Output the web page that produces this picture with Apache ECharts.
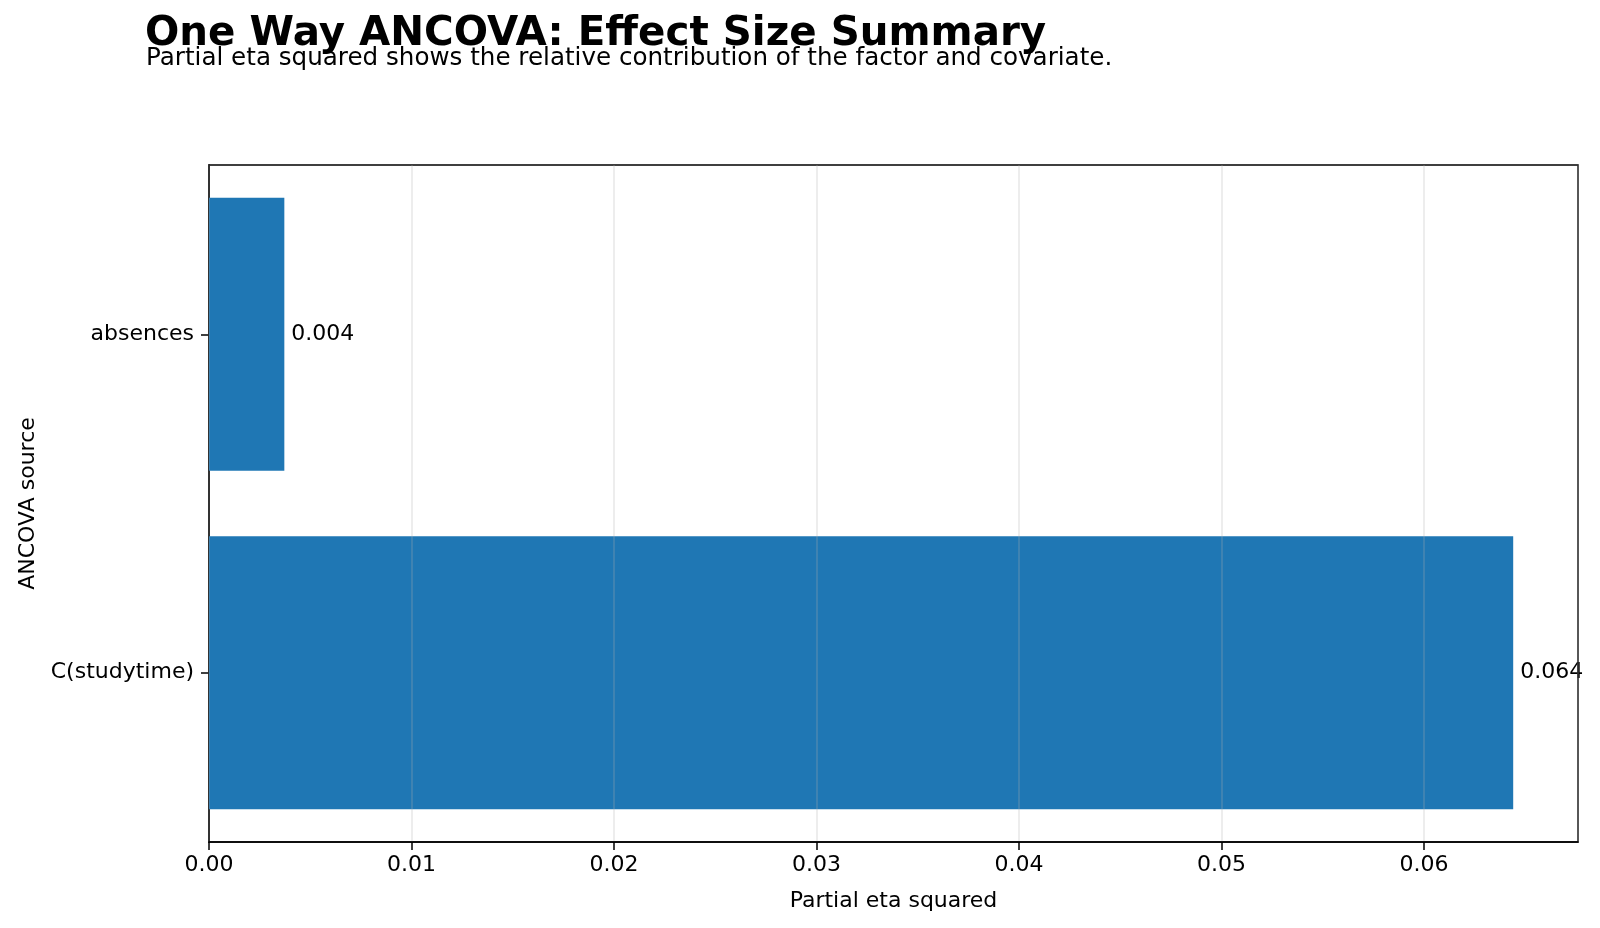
<!DOCTYPE html>
<html>
<head>
<meta charset="utf-8">
<script src="https://cdn.jsdelivr.net/npm/echarts@6/dist/echarts.min.js"></script>
<style>
  html, body { margin: 0; padding: 0; background: #fff; }
  #main { width: 1600px; height: 928px; }
</style>
</head>
<body>
<div id="main"></div>
<script>
// 数据
var sources = ['C(studytime)', 'absences'];
var etaValues = [0.0644, 0.00372];
var xTicks = [0, 0.01, 0.02, 0.03, 0.04, 0.05, 0.06];

var myChart = echarts.init(document.getElementById('main'));
var font = 'DejaVu Sans';

var option = {
    animation: false,
    backgroundColor: '#ffffff',
    title: [
        {
            text: 'One Way ANCOVA: Effect Size Summary',
            left: 140,
            top: 10,
            textStyle: { fontFamily: font, fontSize: 40.4, fontWeight: 'bold', color: '#000' }
        },
        {
            text: 'Partial eta squared shows the relative contribution of the factor and covariate.',
            left: 141,
            top: 41,
            textStyle: { fontFamily: font, fontSize: 24.6, fontWeight: 'normal', color: '#000' }
        }
    ],
    grid: {
        left: 209, top: 165, right: 22, bottom: 86,
        show: true,
        borderColor: '#000',
        borderWidth: 1.5
    },
    xAxis: {
        type: 'value',
        min: 0,
        max: 0.0676,
        interval: 0.01,
        z: 10,
        name: 'Partial eta squared',
        nameLocation: 'middle',
        nameGap: 48,
        nameTextStyle: { fontFamily: font, fontSize: 22, color: '#000' },
        axisLine: { show: true, lineStyle: { color: '#000', width: 1.5 } },
        axisTick: { show: true, length: 8, lineStyle: { color: '#000', width: 1.5 } },
        axisLabel: {
            fontFamily: font, fontSize: 22, color: '#000', margin: 12,
            showMaxLabel: false,
            formatter: function (v) { return xTicks.indexOf(+v.toFixed(2)) >= 0 ? v.toFixed(2) : ''; }
        },
        splitLine: { show: true, lineStyle: { color: 'rgba(176,176,176,0.3)', width: 1.5 } }
    },
    yAxis: {
        type: 'category',
        data: sources,
        name: 'ANCOVA source',
        nameLocation: 'middle',
        nameGap: 170,
        nameRotate: 90,
        nameTextStyle: { fontFamily: font, fontSize: 22, color: '#000' },
        axisLine: { show: true, lineStyle: { color: '#000', width: 1.5 } },
        axisTick: { show: true, alignWithLabel: true, length: 8, lineStyle: { color: '#000', width: 1.5 } },
        axisLabel: { fontFamily: font, fontSize: 22, color: '#000', margin: 15 },
        splitLine: { show: false }
    },
    series: [
        {
            type: 'bar',
            data: etaValues,
            barWidth: 273,
            itemStyle: { color: '#1f77b4' },
            label: {
                show: true,
                position: 'right',
                distance: 7,
                fontFamily: font,
                fontSize: 22,
                color: '#000',
                formatter: function (p) { return p.value.toFixed(3); }
            }
        }
    ]
};

myChart.setOption(option);
</script>
</body>
</html>
